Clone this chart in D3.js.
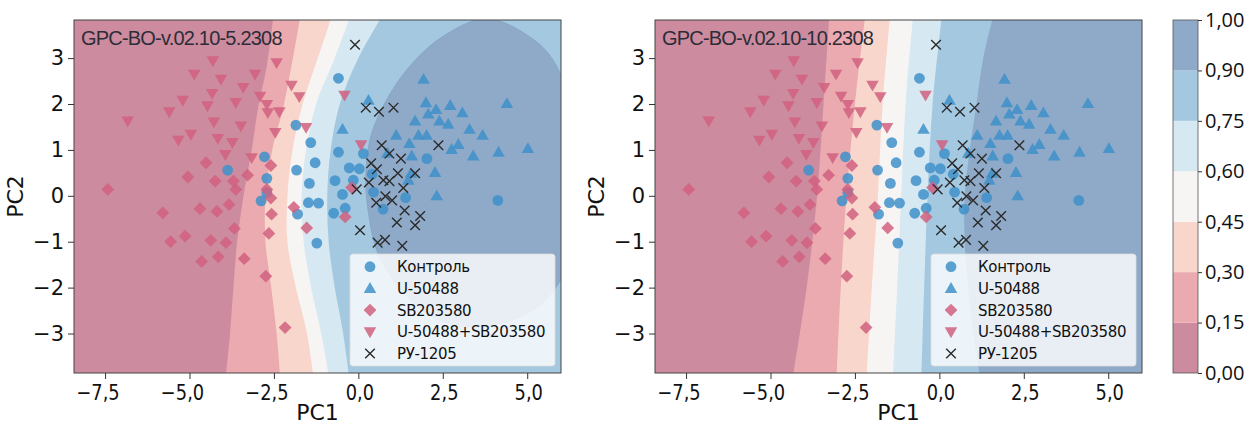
<!DOCTYPE html>
<html><head><meta charset="utf-8">
<script src="https://cdn.jsdelivr.net/npm/d3@7"></script>
<style>body{margin:0;background:#fff}svg{display:block}</style>
</head><body><svg id="c" width="1244" height="425"></svg>
<script>
// ---------- data ----------
const groups = ["Контроль", "U-50488", "SB203580", "U-50488+SB203580", "РУ-1205"];
const titles = ["GPC-BO-v.02.10-5.2308", "GPC-BO-v.02.10-10.2308"];

const control = [[-1.85,1.54],[-1.41,1.16],[-1.28,0.72],[-1.83,0.56],[-1.45,0.27],[-1.48,-0.15],[-1.18,-0.16],[-1.80,-0.40],[-2.78,0.85],[-3.87,0.56],[-2.71,0.38],[-2.71,0.07],[-2.88,-0.11],[-0.59,2.56],[-0.59,0.95],[-0.27,0.61],[0.03,0.59],[-0.69,0.33],[-0.15,0.34],[-0.47,0.03],[-0.39,-0.27],[-0.73,-0.38],[0.41,0.47],[0.73,-0.29],[0.15,0.92],[0.45,0.08],[1.40,-0.04],[2.03,0.81],[4.13,-0.10],[-1.23,-1.03]];
const u50488 = [[1.93,2.54],[0.30,2.08],[2.00,2.03],[2.72,1.97],[4.40,2.01],[3.08,1.81],[2.07,1.78],[2.30,1.88],[1.68,1.63],[2.40,1.63],[2.66,1.56],[-0.47,1.45],[3.29,1.45],[3.68,1.32],[1.12,1.32],[1.78,1.32],[2.02,1.32],[1.51,1.14],[2.76,1.01],[2.96,1.12],[4.15,0.95],[5.02,1.03],[3.40,0.87],[1.58,0.87],[0.86,0.93],[2.27,0.51],[1.56,0.49],[1.48,0.34],[2.32,0.00]];
const sb203580 = [[-7.42,0.14],[-5.05,0.41],[-4.51,0.72],[-4.24,0.32],[-3.70,0.32],[-3.63,0.14],[-3.28,0.45],[-2.59,0.66],[-2.71,0.14],[-2.59,-0.05],[-1.91,-0.25],[-5.79,-0.37],[-4.69,-0.28],[-4.19,-0.34],[-3.83,-0.19],[-2.57,-0.40],[-1.53,-0.70],[-5.56,-1.00],[-5.13,-0.88],[-4.37,-0.97],[-3.92,-1.02],[-3.67,-0.71],[-4.64,-1.43],[-4.15,-1.33],[-3.38,-1.37],[-2.65,-0.82],[-2.74,-1.75],[-2.17,-2.87],[-0.20,0.18],[-0.39,-0.46]];
const combo = [[-6.83,1.63],[-5.60,1.83],[-5.20,2.08],[-5.33,1.21],[-4.96,1.34],[-4.86,2.65],[-4.47,1.96],[-4.33,2.23],[-4.31,2.94],[-4.07,2.54],[-4.28,1.61],[-4.16,1.25],[-3.73,1.16],[-3.94,0.90],[-3.63,2.03],[-3.41,2.36],[-3.48,1.52],[-3.06,2.65],[-2.91,2.17],[-2.71,1.99],[-2.68,1.81],[-2.34,1.83],[-2.46,1.38],[-2.42,2.90],[-1.98,2.41],[-1.75,2.16],[-1.55,1.49],[-3.16,0.83],[-0.41,2.19],[0.08,1.11]];
const ry1205 = [[-0.10,3.29],[0.22,1.92],[0.61,1.83],[1.04,1.92],[0.69,1.10],[0.92,0.92],[1.26,0.81],[2.37,1.10],[0.38,0.71],[0.55,0.58],[1.17,0.49],[1.68,0.49],[0.31,0.29],[0.74,0.34],[0.92,0.32],[-0.05,0.14],[1.33,0.17],[0.53,-0.15],[0.80,-0.01],[1.00,-0.10],[1.37,-0.32],[1.83,-0.44],[0.05,-0.75],[0.57,-1.02],[0.79,-0.96],[1.30,-1.09],[1.14,-0.58],[1.68,-0.64]];

const levels = [0, 0.15, 0.30, 0.45, 0.60, 0.75, 0.90, 1.00];
const levelLabels = ["0,00","0,15","0,30","0,45","0,60","0,75","0,90","1,00"];
const bandColors = ["#cc8b9e","#eba9b0","#f8d6cc","#f7f5f4","#d6e8f2","#a3c8e0","#8eaac8"];
const xTicks = [-7.5, -5, -2.5, 0, 2.5, 5];
const yTicks = [-3, -2, -1, 0, 1, 2, 3];

// contour boundaries: [PC1, PC2], top to bottom
const leftB15 = [[-2.52,3.9],[-2.71,2.83],[-2.96,1.96],[-3.16,1.0],[-3.40,0],[-3.59,-1.0],[-3.70,-2.0],[-3.80,-3.0],[-3.92,-3.9]];
const leftB30 = [[-1.72,3.9],[-2.2,2.0],[-2.55,1.0],[-2.75,0],[-2.75,-1.0],[-2.58,-2.0],[-2.42,-3.0],[-2.32,-3.9]];
const leftB45 = [[-0.79,3.9],[-1.2,3.0],[-1.65,2.0],[-1.95,1.0],[-2.1,0],[-2.1,-1.0],[-1.85,-2.0],[-1.52,-3.0],[-1.34,-3.9]];
const leftB60 = [[-0.25,3.9],[-0.7,3.0],[-1.25,2.0],[-1.55,1.0],[-1.68,0],[-1.62,-1.0],[-1.4,-2.0],[-1.1,-3.0],[-0.88,-3.9]];
const leftB75 = [[0.69,3.9],[0.0,3.0],[-0.55,2.0],[-0.82,1.0],[-0.92,0],[-0.88,-1.0],[-0.7,-2.0],[-0.45,-3.0],[-0.28,-3.9]];
const leftB90 = [[3.8,3.86],[5.18,3.41],[5.87,2.83],[6.4,1.5],[6.5,0],[6.2,-1.5],[5.5,-2.3],[4.4,-2.75],[3.2,-2.85],[2.1,-2.6],[1.2,-2.0],[0.55,-1.2],[0.3,-0.38],[0.22,0.2],[0.25,0.8],[0.40,1.38],[0.84,2.1],[1.53,2.83],[2.52,3.48]];
const rightB15 = [[-3.26,3.9],[-3.43,2.0],[-3.62,0],[-3.93,-2.0],[-4.33,-3.9]];
const rightB30 = [[-2.20,3.9],[-2.5,2.0],[-2.75,0],[-2.92,-2.0],[-3.04,-3.9]];
const rightB45 = [[-1.46,3.9],[-1.68,2.0],[-1.82,0],[-2.0,-2.0],[-2.15,-3.9]];
const rightB60 = [[-0.78,3.9],[-1.0,2.0],[-1.13,0],[-1.25,-2.0],[-1.37,-3.9]];
const rightB75 = [[0.07,3.9],[-0.2,2.0],[-0.35,0],[-0.45,-2.0],[-0.53,-3.9]];
const rightB90 = [[1.59,3.9],[1.3,3.0],[1.1,2.0],[0.9,1.0],[0.75,0],[0.75,-1.0],[0.85,-2.0],[1.0,-3.0],[1.2,-3.9]];

// ---------- layout ----------
const svg = d3.select("#c");
const xDomain = [-8.42, 6.0], yDomain = [-3.86, 3.83];
const yTop = 20, yBot = 373;
const panels = [
  {x0: 74, x1: 561, title: titles[0], left: [leftB75, leftB60, leftB45, leftB30, leftB15], closed: leftB90, right: null},
  {x0: 655, x1: 1142, title: titles[1], left: [rightB75, rightB60, rightB45, rightB30, rightB15], closed: null, right: rightB90}
];
const series = [
  {data: control, sym: "circle", color: "#3f90ca"},
  {data: u50488, sym: "up", color: "#3f90ca"},
  {data: sb203580, sym: "diamond", color: "#d1607f"},
  {data: combo, sym: "down", color: "#d1607f"},
  {data: ry1205, sym: "x", color: "#2b2b2b"}
];
const fmtX = d => d3.format(".1f")(d).replace(".", ",");
const fmtY = d => d3.format("d")(d);

function drawMarker(g, sym, color, cx, cy) {
  if (sym === "circle") {
    g.append("circle").attr("cx", cx).attr("cy", cy).attr("r", 5.4).attr("fill", color).attr("fill-opacity", 0.85);
  } else if (sym === "up" || sym === "down") {
    g.append("path").attr("d", d3.symbol(d3.symbolTriangle, 68)())
      .attr("transform", `translate(${cx},${cy + (sym==="up"?0.9:-0.9)}) rotate(${sym==="up"?0:180})`)
      .attr("fill", color).attr("fill-opacity", 0.85);
  } else if (sym === "diamond") {
    g.append("path").attr("d", d3.symbol(d3.symbolSquare, 82)())
      .attr("transform", `translate(${cx},${cy}) rotate(45)`)
      .attr("fill", color).attr("fill-opacity", 0.85);
  } else {
    const s = 4.8;
    g.append("path").attr("d", `M${cx-s},${cy-s}L${cx+s},${cy+s}M${cx-s},${cy+s}L${cx+s},${cy-s}`)
      .attr("stroke", color).attr("stroke-width", 1.4).attr("fill", "none");
  }
}

panels.forEach((p, i) => {
  const x = d3.scaleLinear().domain(xDomain).range([p.x0, p.x1]);
  const y = d3.scaleLinear().domain(yDomain).range([yBot, yTop]);
  const g = svg.append("g");
  const clipId = "clip" + i;
  svg.append("clipPath").attr("id", clipId).append("rect")
    .attr("x", p.x0).attr("y", yTop).attr("width", p.x1 - p.x0).attr("height", yBot - yTop);
  const bg = g.append("g").attr("clip-path", `url(#${clipId})`);
  bg.append("rect").attr("x", p.x0).attr("y", yTop).attr("width", p.x1 - p.x0).attr("height", yBot - yTop).attr("fill", bandColors[5]);
  const line = d3.line().x(d => x(d[0])).y(d => y(d[1])).curve(d3.curveCatmullRom);
  if (p.closed) {
    bg.append("path").attr("d", d3.line().x(d => x(d[0])).y(d => y(d[1])).curve(d3.curveCatmullRomClosed)(p.closed))
      .attr("fill", bandColors[6]).attr("stroke", "#7f9dbd").attr("stroke-width", 0.6);
  }
  if (p.right) {
    bg.append("path").attr("d", line(p.right) + `L${p.x1+5},${yBot+5}L${p.x1+5},${yTop-5}Z`).attr("fill", bandColors[6]);
  }
  p.left.forEach((b, k) => {
    bg.append("path").attr("d", line(b) + `L${p.x0-5},${yBot+5}L${p.x0-5},${yTop-5}Z`).attr("fill", bandColors[4 - k]);
  });
  const mk = g.append("g").attr("clip-path", `url(#${clipId})`);
  series.forEach(s => s.data.forEach(d => drawMarker(mk, s.sym, s.color, x(d[0]), y(d[1]))));
  g.append("rect").attr("x", p.x0).attr("y", yTop).attr("width", p.x1 - p.x0).attr("height", yBot - yTop)
    .attr("fill", "none").attr("stroke", "#444").attr("stroke-width", 1);
  const ax = g.append("g").attr("transform", `translate(0,${yBot})`)
    .call(d3.axisBottom(x).tickValues(xTicks).tickFormat(fmtX).tickSize(6).tickPadding(6));
  const ay = g.append("g").attr("transform", `translate(${p.x0},0)`)
    .call(d3.axisLeft(y).tickValues(yTicks).tickFormat(fmtY).tickSize(6).tickPadding(4));
  [ax, ay].forEach(a => {
    a.select(".domain").remove();
    a.selectAll("line").attr("stroke", "#333");
    a.selectAll("text").attr("font-family", "DejaVu Sans").attr("font-size", 21).attr("fill", "#111");
  });
  ax.selectAll("text")
    .attr("transform", "scale(0.85,1)")
    .attr("dx", d => (d < 0 ? -7.5 : 1) / 0.85);
  g.append("text").attr("x", (p.x0 + p.x1) / 2).attr("y", 420).attr("text-anchor", "middle")
    .attr("font-family", "DejaVu Sans").attr("font-size", 22).attr("fill", "#111").text("PC1");
  g.append("text").attr("transform", `translate(${p.x0 - 51},${(yTop + yBot) / 2}) rotate(-90)`)
    .attr("text-anchor", "middle").attr("font-family", "DejaVu Sans").attr("font-size", 22).attr("fill", "#111").text("PC2");
  g.append("text").attr("x", p.x0 + 7).attr("y", 45).attr("font-family", "Liberation Sans").attr("font-size", 20)
    .attr("letter-spacing", -0.8).attr("fill", "#2d2d38").text(p.title);
  const lx = p.x1 - 211, ly = 254;
  const lg = g.append("g");
  lg.append("rect").attr("x", lx).attr("y", ly).attr("width", 205).attr("height", 112).attr("rx", 3)
    .attr("fill", "#ffffff").attr("fill-opacity", 0.8).attr("stroke", "#dddddd").attr("stroke-width", 0.8);
  series.forEach((s, k) => {
    const cy = ly + 12.7 + k * 21.7;
    drawMarker(lg, s.sym, s.color, p.x1 - 191, cy);
    lg.append("text").attr("x", p.x1 - 164).attr("y", cy + 5.5).attr("font-family", "DejaVu Sans").attr("font-size", 15)
      .attr("letter-spacing", -0.35).attr("fill", "#111").text(groups[k]);
  });
});

// colorbar
const cbx = 1173, cbw = 25;
const yc = d3.scaleLinear().domain([0, 7]).range([yBot, yTop]);
const cb = svg.append("g");
bandColors.forEach((c, k) => {
  cb.append("rect").attr("x", cbx).attr("y", yc(k + 1)).attr("width", cbw).attr("height", yc(k) - yc(k + 1)).attr("fill", c);
});
cb.append("rect").attr("x", cbx).attr("y", yTop).attr("width", cbw).attr("height", yBot - yTop)
  .attr("fill", "none").attr("stroke", "#555").attr("stroke-width", 0.8);
const cAxis = d3.axisRight(yc).tickValues(d3.range(8)).tickFormat(k => levelLabels[k]).tickSize(4).tickPadding(3);
const ca = cb.append("g").attr("transform", `translate(${cbx + cbw},0)`).call(cAxis);
ca.select(".domain").remove();
ca.selectAll("line").attr("stroke", "#333");
ca.selectAll("text").attr("font-family", "Open Sans").attr("font-size", 20).attr("fill", "#111");
</script></body></html>
